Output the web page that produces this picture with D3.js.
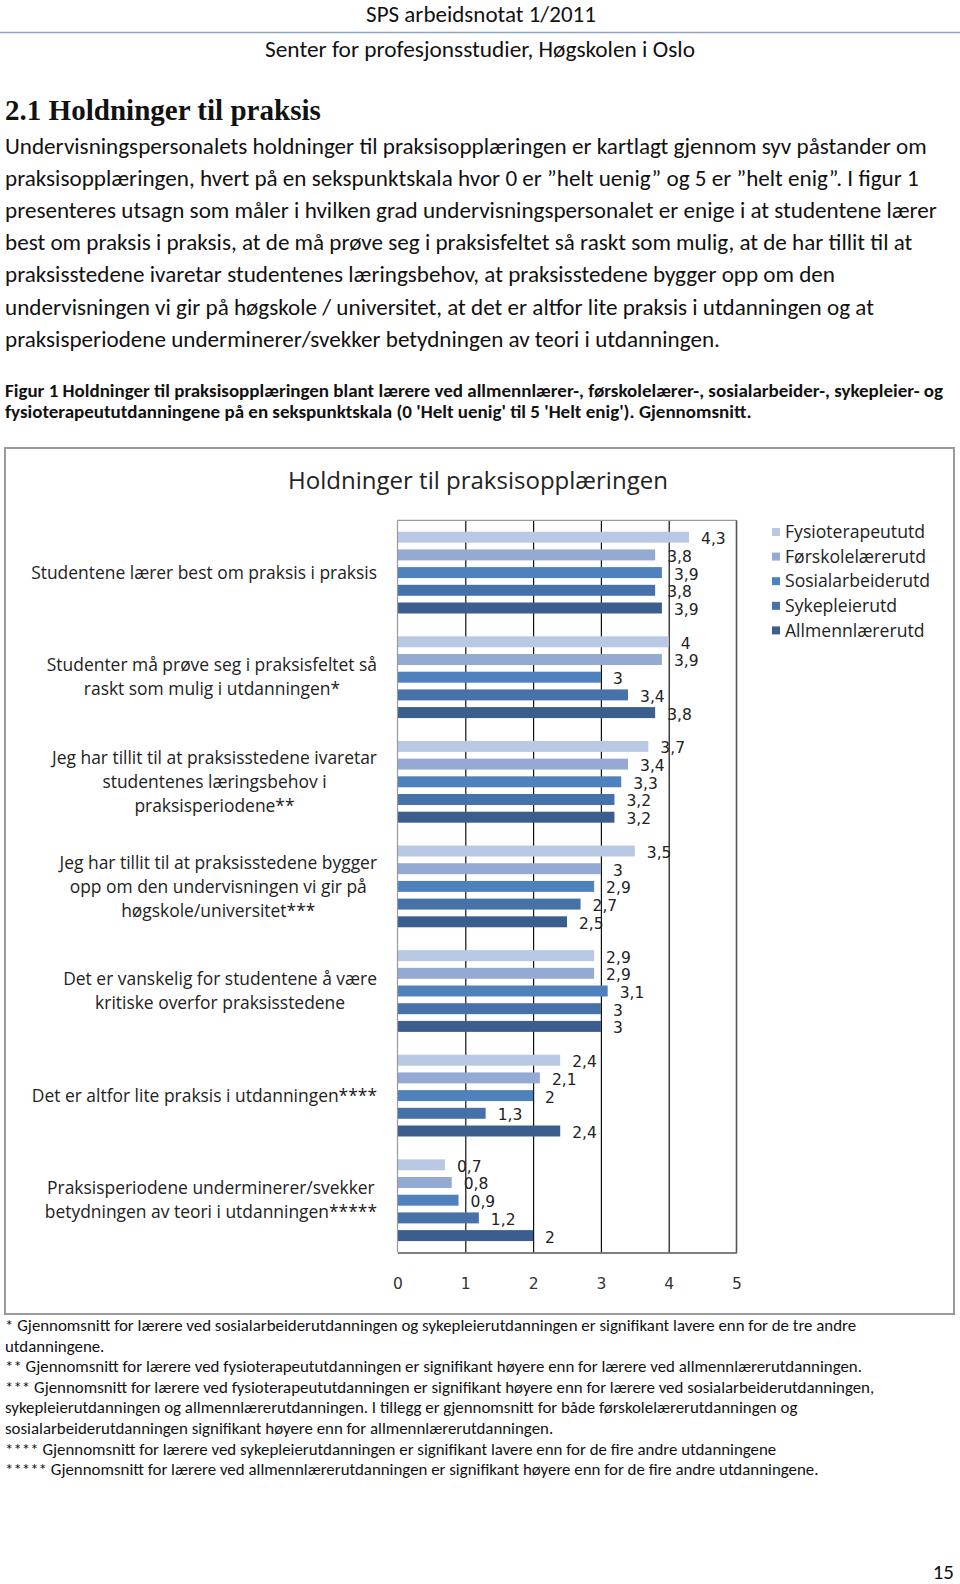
<!DOCTYPE html>
<html>
<head>
<meta charset="utf-8">
<script src="https://cdn.jsdelivr.net/npm/d3@7"></script>
<style>
  html, body { margin: 0; padding: 0; background: #fff; }
  svg { display: block; }
</style>
</head>
<body>
<div id="page"></div>
<script>
// ---------- DATA ----------
const categories = [
  ["Studentene lærer best om praksis i praksis"],
  ["Studenter må prøve seg i praksisfeltet så", "raskt som mulig i utdanningen*"],
  ["Jeg har tillit til at praksisstedene ivaretar", "studentenes læringsbehov i", "praksisperiodene**"],
  ["Jeg har tillit til at praksisstedene bygger", "opp om den undervisningen vi gir på", "høgskole/universitet***"],
  ["Det er vanskelig for studentene å være", "kritiske overfor praksisstedene"],
  ["Det er altfor lite praksis i utdanningen****"],
  ["Praksisperiodene underminerer/svekker", "betydningen av teori i utdanningen*****"]
];
const seriesNames = ["Fysioterapeututd", "Førskolelærerutd", "Sosialarbeiderutd", "Sykepleierutd", "Allmennlærerutd"];
const fysioterapeut = [4.3, 4.0, 3.7, 3.5, 2.9, 2.4, 0.7];
const forskolelaerer = [3.8, 3.9, 3.4, 3.0, 2.9, 2.1, 0.8];
const sosialarbeider = [3.9, 3.0, 3.3, 2.9, 3.1, 2.0, 0.9];
const sykepleier = [3.8, 3.4, 3.2, 2.7, 3.0, 1.3, 1.2];
const allmennlaerer = [3.9, 3.8, 3.2, 2.5, 3.0, 2.4, 2.0];
const seriesValues = [fysioterapeut, forskolelaerer, sosialarbeider, sykepleier, allmennlaerer];
const seriesColors = ["#b9c9e3", "#95aad3", "#4f81bd", "#4672a9", "#3b5e8e"];
const xTicks = [0, 1, 2, 3, 4, 5];
const chartTitle = "Holdninger til praksisopplæringen";

const headerTop = "SPS arbeidsnotat 1/2011";
const headerSub = "Senter for profesjonsstudier, Høgskolen i Oslo";
const sectionTitle = "2.1 Holdninger til praksis";
const bodyLines = [
  "Undervisningspersonalets holdninger til praksisopplæringen er kartlagt gjennom syv påstander om",
  "praksisopplæringen, hvert på en sekspunktskala hvor 0 er ”helt uenig” og 5 er ”helt enig”. I figur 1",
  "presenteres utsagn som måler i hvilken grad undervisningspersonalet er enige i at studentene lærer",
  "best om praksis i praksis, at de må prøve seg i praksisfeltet så raskt som mulig, at de har tillit til at",
  "praksisstedene ivaretar studentenes læringsbehov, at praksisstedene bygger opp om den",
  "undervisningen vi gir på høgskole / universitet, at det er altfor lite praksis i utdanningen og at",
  "praksisperiodene underminerer/svekker betydningen av teori i utdanningen."
];
const captionLines = [
  "Figur 1 Holdninger til praksisopplæringen blant lærere ved allmennlærer-, førskolelærer-, sosialarbeider-, sykepleier- og",
  "fysioterapeututdanningene på en sekspunktskala (0 'Helt uenig' til 5 'Helt enig'). Gjennomsnitt."
];
const footLines = [
  "* Gjennomsnitt for lærere ved sosialarbeiderutdanningen og sykepleierutdanningen er signifikant lavere enn for de tre andre",
  "utdanningene.",
  "** Gjennomsnitt for lærere ved fysioterapeututdanningen er signifikant høyere enn for lærere ved allmennlærerutdanningen.",
  "*** Gjennomsnitt for lærere ved fysioterapeututdanningen er signifikant høyere enn for lærere ved sosialarbeiderutdanningen,",
  "sykepleierutdanningen og allmennlærerutdanningen. I tillegg er gjennomsnitt for både førskolelærerutdanningen og",
  "sosialarbeiderutdanningen signifikant høyere enn for allmennlærerutdanningen.",
  "**** Gjennomsnitt for lærere ved sykepleierutdanningen er signifikant lavere enn for de fire andre utdanningene",
  "***** Gjennomsnitt for lærere ved allmennlærerutdanningen er signifikant høyere enn for de fire andre utdanningene."
];
const pageNumber = "15";

// ---------- PAGE ----------
const W = 960, H = 1584;
const svg = d3.select("#page").append("svg").attr("width", W).attr("height", H);
const docFont = "Carlito, Lato, 'Liberation Sans', sans-serif";
const chartFont = "'Open Sans', 'Noto Sans', sans-serif";

// scale font size of a text selection so that the node at refIndex has the target width
function fitFont(sel, target, refIndex = 0) {
  const nodes = sel.nodes();
  const n = nodes[refIndex];
  const fs = parseFloat(n.style.fontSize);
  const w = n.getComputedTextLength();
  if (w > 0) sel.style("font-size", (fs * target / w).toFixed(2) + "px");
  return sel;
}

const hTop = svg.append("text").attr("x", 481).attr("y", 22).attr("text-anchor", "middle")
  .style("font-family", docFont).style("font-size", "20px").attr("fill", "#111").text(headerTop);
fitFont(hTop, 230);
svg.append("line").attr("x1", 0).attr("x2", W).attr("y1", 32.5).attr("y2", 32.5)
  .attr("stroke", "#8da5bf").attr("stroke-width", 1.5);
const hSub = svg.append("text").attr("x", 480).attr("y", 57).attr("text-anchor", "middle")
  .style("font-family", docFont).style("font-size", "20px").attr("fill", "#111").text(headerSub);
fitFont(hSub, 430);

const sec = svg.append("text").attr("x", 5).attr("y", 120)
  .style("font-family", "'Liberation Serif', 'DejaVu Serif', serif").style("font-size", "26px")
  .style("font-weight", "bold").attr("fill", "#111").text(sectionTitle);
fitFont(sec, 316);

const body = svg.append("g").selectAll("text").data(bodyLines).join("text")
  .attr("x", 5).attr("y", (d, i) => 154 + i * 32.1)
  .style("font-family", docFont).style("font-size", "19.5px").attr("fill", "#111").text(d => d);
fitFont(body, 922);

const cap = svg.append("g").selectAll("text").data(captionLines).join("text")
  .attr("x", 5).attr("y", (d, i) => 397 + i * 21)
  .style("font-family", docFont).style("font-size", "15.5px").style("font-weight", "bold")
  .attr("fill", "#111").text(d => d);
fitFont(cap, 938);

const foot = svg.append("g").selectAll("text").data(footLines).join("text")
  .attr("x", 5).attr("y", (d, i) => 1331 + i * 20.6)
  .style("font-family", docFont).style("font-size", "14.5px").attr("fill", "#111").text(d => d);
fitFont(foot, 851);

svg.append("text").attr("x", 954).attr("y", 1579).attr("text-anchor", "end")
  .style("font-family", docFont).style("font-size", "21px").attr("fill", "#111").text(pageNumber);

// ---------- CHART ----------
svg.append("rect").attr("x", 5).attr("y", 448).attr("width", 949).attr("height", 866)
  .attr("fill", "#fff").attr("stroke", "#9a9a9a").attr("stroke-width", 2);

const ttl = svg.append("text").attr("x", 478).attr("y", 489).attr("text-anchor", "middle")
  .style("font-family", chartFont).style("font-size", "21px").attr("fill", "#222").text(chartTitle);
fitFont(ttl, 380);

const plot = { left: 397.5, right: 736.5, top: 520.3, bottom: 1252.5 };
const x = d3.scaleLinear().domain([0, 5]).range([plot.left, plot.right]);
const y = d3.scaleBand().domain(d3.range(categories.length)).range([plot.top, plot.bottom]).padding(0);
const ySub = d3.scaleBand().domain(d3.range(seriesNames.length)).range([0, y.bandwidth()])
  .paddingInner(0.38).paddingOuter(0.645);

// gridlines
const xAxisGrid = d3.axisBottom(x).tickValues(xTicks.slice(1, -1)).tickSize(-(plot.bottom - plot.top)).tickFormat("");
svg.append("g").attr("transform", `translate(0,${plot.bottom})`).call(xAxisGrid)
  .call(g => g.select(".domain").remove())
  .call(g => g.selectAll("line").attr("stroke", "#111").attr("stroke-width", 1.2));

// plot border
svg.append("line").attr("x1", plot.left).attr("x2", plot.right).attr("y1", plot.top).attr("y2", plot.top)
  .attr("stroke", "#999").attr("stroke-width", 1.2);
svg.append("line").attr("x1", plot.right).attr("x2", plot.right).attr("y1", plot.top).attr("y2", plot.bottom)
  .attr("stroke", "#555").attr("stroke-width", 1.6);

// bars
const gSeries = svg.append("g").selectAll("g").data(seriesValues).join("g")
  .attr("fill", (d, i) => seriesColors[i]);
gSeries.each(function (vals, si) {
  d3.select(this).selectAll("rect").data(vals).join("rect")
    .attr("x", x(0))
    .attr("y", (v, ci) => y(ci) + ySub(si))
    .attr("width", v => x(v) - x(0))
    .attr("height", ySub.bandwidth());
  d3.select(this).selectAll("text").data(vals).join("text")
    .attr("x", v => x(v) + 12)
    .attr("y", (v, ci) => y(ci) + ySub(si) + ySub.bandwidth() / 2 + 1.5)
    .attr("dy", "0.35em")
    .attr("fill", "#222")
    .style("font-family", "'DejaVu Sans', Verdana, sans-serif").style("font-size", "15.5px")
    .text(v => String(v).replace(".", ","));
});

// left axis line and bottom axis
svg.append("line").attr("x1", plot.left).attr("x2", plot.left).attr("y1", plot.top).attr("y2", plot.bottom)
  .attr("stroke", "#999").attr("stroke-width", 1.2);
const xAxis = d3.axisBottom(x).tickValues(xTicks).tickSize(0).tickPadding(0).tickFormat(d3.format("d"));
svg.append("g").attr("transform", `translate(0,${plot.bottom})`).call(xAxis)
  .call(g => g.select(".domain").attr("stroke", "#555").attr("stroke-width", 1.6))
  .call(g => g.selectAll("text").attr("y", 31).attr("dy", "0.35em").attr("fill", "#333")
    .style("font-family", "'DejaVu Sans', Verdana, sans-serif").style("font-size", "15.5px"));

// category labels
const catFs = (() => {
  const probe = svg.append("text").style("font-family", chartFont).style("font-size", "16px").text(categories[0][0]);
  const w = probe.node().getComputedTextLength();
  probe.remove();
  return 16 * 346 / w;
})();
const catG = svg.append("g").selectAll("g").data(categories).join("g");
catG.each(function (lines, ci) {
  const g = d3.select(this);
  const lh = 24;
  const cy = y(ci) + y.bandwidth() / 2;
  const t = g.selectAll("text").data(lines).join("text")
    .attr("y", (d, i) => cy + (i - (lines.length - 1) / 2) * lh)
    .attr("dy", "0.35em")
    .attr("text-anchor", "middle")
    .attr("fill", "#222")
    .style("font-family", chartFont).style("font-size", catFs.toFixed(2) + "px")
    .text(d => d);
  let maxW = 0;
  t.each(function () { maxW = Math.max(maxW, this.getComputedTextLength()); });
  t.attr("x", 377 - maxW / 2);
});

// legend
const leg = svg.append("g").selectAll("g").data(seriesNames).join("g")
  .attr("transform", (d, i) => `translate(772,${532 + i * 24.6})`);
leg.append("rect").attr("x", 0).attr("y", -4).attr("width", 8).attr("height", 8)
  .attr("fill", (d, i) => seriesColors[i]);
const legText = leg.append("text").attr("x", 13).attr("dy", "0.35em").attr("fill", "#222")
  .style("font-family", chartFont).style("font-size", "16px").text(d => d);
fitFont(legText, 140);
</script>
</body>
</html>
